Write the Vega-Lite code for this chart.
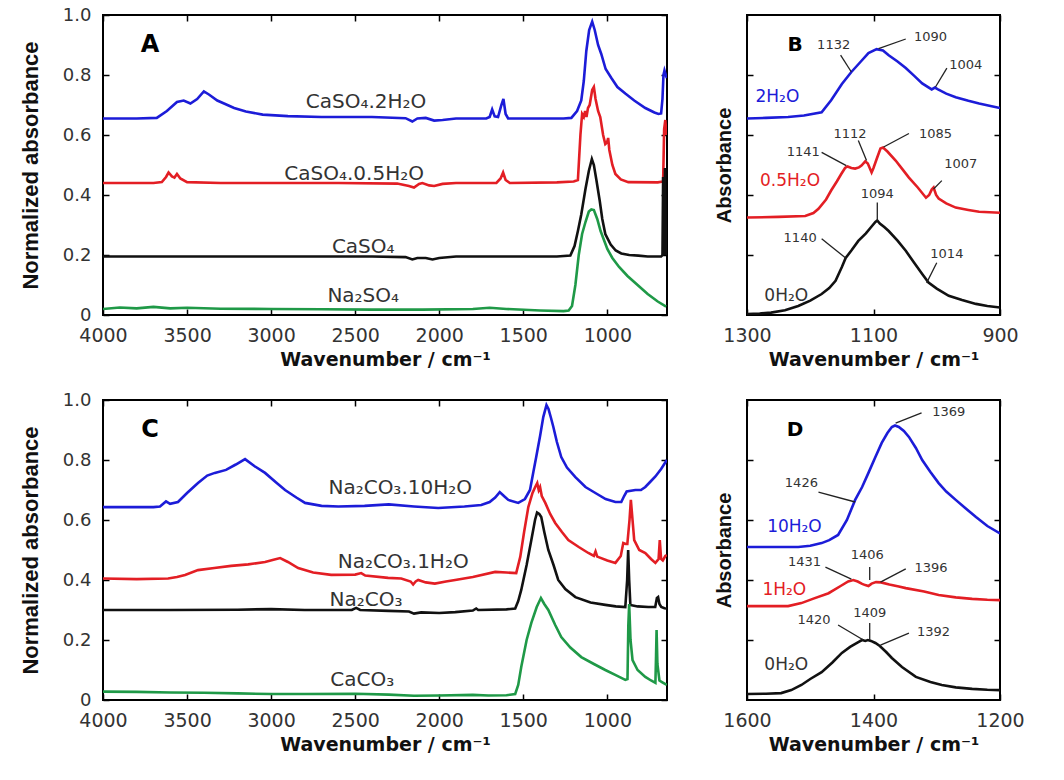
{
"$schema": "https://vega.github.io/schema/vega-lite/v6.json",
"background": "white",
"padding": {"left": 18, "top": 5, "right": 5, "bottom": 5},
"config": {
  "view": {"stroke": "black", "strokeWidth": 2},
  "axis": {"domain": false, "grid": false, "tickSize": -6, "tickColor": "black", "tickWidth": 1.5, "labelFont": "DejaVu Sans", "labelFontSize": 19, "labelColor": "#333333", "labelFlush": false, "labelOverlap": false, "titleColor": "#111111", "titleFontWeight": "bold"},
  "axisLeft": {"labelFontSize": 18},
  "text": {"font": "DejaVu Sans"}
},
"datasets": {
"L": [
{"p":"A","c":"b","x":4000,"y":0.655},{"p":"A","c":"b","x":3800,"y":0.655},{"p":"A","c":"b","x":3680,"y":0.657},{"p":"A","c":"b","x":3620,"y":0.68},{"p":"A","c":"b","x":3560,"y":0.71},{"p":"A","c":"b","x":3520,"y":0.715},{"p":"A","c":"b","x":3480,"y":0.705},{"p":"A","c":"b","x":3440,"y":0.72},{"p":"A","c":"b","x":3400,"y":0.745},{"p":"A","c":"b","x":3370,"y":0.735},{"p":"A","c":"b","x":3320,"y":0.715},{"p":"A","c":"b","x":3280,"y":0.705},{"p":"A","c":"b","x":3220,"y":0.69},{"p":"A","c":"b","x":3150,"y":0.678},{"p":"A","c":"b","x":3050,"y":0.668},{"p":"A","c":"b","x":2900,"y":0.663},{"p":"A","c":"b","x":2700,"y":0.66},{"p":"A","c":"b","x":2400,"y":0.66},{"p":"A","c":"b","x":2200,"y":0.656},{"p":"A","c":"b","x":2160,"y":0.645},{"p":"A","c":"b","x":2130,"y":0.655},{"p":"A","c":"b","x":2080,"y":0.657},{"p":"A","c":"b","x":2030,"y":0.648},{"p":"A","c":"b","x":1980,"y":0.65},{"p":"A","c":"b","x":1900,"y":0.655},{"p":"A","c":"b","x":1720,"y":0.655},{"p":"A","c":"b","x":1700,"y":0.66},{"p":"A","c":"b","x":1685,"y":0.685},{"p":"A","c":"b","x":1670,"y":0.662},{"p":"A","c":"b","x":1650,"y":0.66},{"p":"A","c":"b","x":1630,"y":0.7},{"p":"A","c":"b","x":1618,"y":0.72},{"p":"A","c":"b","x":1605,"y":0.67},{"p":"A","c":"b","x":1590,"y":0.655},{"p":"A","c":"b","x":1400,"y":0.655},{"p":"A","c":"b","x":1260,"y":0.655},{"p":"A","c":"b","x":1214,"y":0.657},{"p":"A","c":"b","x":1180,"y":0.68},{"p":"A","c":"b","x":1155,"y":0.715},{"p":"A","c":"b","x":1140,"y":0.78},{"p":"A","c":"b","x":1125,"y":0.88},{"p":"A","c":"b","x":1108,"y":0.95},{"p":"A","c":"b","x":1090,"y":0.978},{"p":"A","c":"b","x":1075,"y":0.95},{"p":"A","c":"b","x":1055,"y":0.9},{"p":"A","c":"b","x":1036,"y":0.87},{"p":"A","c":"b","x":1010,"y":0.82},{"p":"A","c":"b","x":976,"y":0.79},{"p":"A","c":"b","x":940,"y":0.76},{"p":"A","c":"b","x":893,"y":0.738},{"p":"A","c":"b","x":840,"y":0.715},{"p":"A","c":"b","x":774,"y":0.69},{"p":"A","c":"b","x":720,"y":0.675},{"p":"A","c":"b","x":696,"y":0.67},{"p":"A","c":"b","x":680,"y":0.672},{"p":"A","c":"b","x":672,"y":0.72},{"p":"A","c":"b","x":666,"y":0.8},{"p":"A","c":"b","x":660,"y":0.815},{"p":"A","c":"b","x":652,"y":0.8},{"p":"A","c":"b","x":646,"y":0.79},
{"p":"A","c":"r","x":4000,"y":0.44},{"p":"A","c":"r","x":3700,"y":0.44},{"p":"A","c":"r","x":3650,"y":0.443},{"p":"A","c":"r","x":3625,"y":0.46},{"p":"A","c":"r","x":3610,"y":0.475},{"p":"A","c":"r","x":3590,"y":0.462},{"p":"A","c":"r","x":3575,"y":0.458},{"p":"A","c":"r","x":3560,"y":0.47},{"p":"A","c":"r","x":3540,"y":0.455},{"p":"A","c":"r","x":3500,"y":0.443},{"p":"A","c":"r","x":3300,"y":0.44},{"p":"A","c":"r","x":2600,"y":0.44},{"p":"A","c":"r","x":2250,"y":0.438},{"p":"A","c":"r","x":2180,"y":0.43},{"p":"A","c":"r","x":2150,"y":0.425},{"p":"A","c":"r","x":2120,"y":0.437},{"p":"A","c":"r","x":2100,"y":0.44},{"p":"A","c":"r","x":2060,"y":0.432},{"p":"A","c":"r","x":2030,"y":0.43},{"p":"A","c":"r","x":1980,"y":0.437},{"p":"A","c":"r","x":1900,"y":0.44},{"p":"A","c":"r","x":1660,"y":0.44},{"p":"A","c":"r","x":1635,"y":0.455},{"p":"A","c":"r","x":1620,"y":0.475},{"p":"A","c":"r","x":1605,"y":0.45},{"p":"A","c":"r","x":1580,"y":0.44},{"p":"A","c":"r","x":1300,"y":0.442},{"p":"A","c":"r","x":1200,"y":0.445},{"p":"A","c":"r","x":1175,"y":0.45},{"p":"A","c":"r","x":1160,"y":0.6},{"p":"A","c":"r","x":1150,"y":0.67},{"p":"A","c":"r","x":1140,"y":0.66},{"p":"A","c":"r","x":1132,"y":0.68},{"p":"A","c":"r","x":1124,"y":0.66},{"p":"A","c":"r","x":1115,"y":0.69},{"p":"A","c":"r","x":1105,"y":0.7},{"p":"A","c":"r","x":1090,"y":0.75},{"p":"A","c":"r","x":1080,"y":0.76},{"p":"A","c":"r","x":1070,"y":0.72},{"p":"A","c":"r","x":1055,"y":0.68},{"p":"A","c":"r","x":1042,"y":0.66},{"p":"A","c":"r","x":1025,"y":0.6},{"p":"A","c":"r","x":1012,"y":0.57},{"p":"A","c":"r","x":1002,"y":0.575},{"p":"A","c":"r","x":995,"y":0.59},{"p":"A","c":"r","x":988,"y":0.55},{"p":"A","c":"r","x":970,"y":0.5},{"p":"A","c":"r","x":952,"y":0.47},{"p":"A","c":"r","x":920,"y":0.452},{"p":"A","c":"r","x":875,"y":0.443},{"p":"A","c":"r","x":700,"y":0.442},{"p":"A","c":"r","x":668,"y":0.445},{"p":"A","c":"r","x":662,"y":0.62},{"p":"A","c":"r","x":655,"y":0.65},{"p":"A","c":"r","x":648,"y":0.6},
{"p":"A","c":"k","x":4000,"y":0.195},{"p":"A","c":"k","x":3000,"y":0.195},{"p":"A","c":"k","x":2400,"y":0.195},{"p":"A","c":"k","x":2200,"y":0.193},{"p":"A","c":"k","x":2160,"y":0.185},{"p":"A","c":"k","x":2130,"y":0.19},{"p":"A","c":"k","x":2080,"y":0.19},{"p":"A","c":"k","x":2040,"y":0.185},{"p":"A","c":"k","x":2000,"y":0.19},{"p":"A","c":"k","x":1900,"y":0.195},{"p":"A","c":"k","x":1300,"y":0.195},{"p":"A","c":"k","x":1220,"y":0.198},{"p":"A","c":"k","x":1195,"y":0.23},{"p":"A","c":"k","x":1175,"y":0.28},{"p":"A","c":"k","x":1155,"y":0.335},{"p":"A","c":"k","x":1130,"y":0.42},{"p":"A","c":"k","x":1110,"y":0.48},{"p":"A","c":"k","x":1092,"y":0.52},{"p":"A","c":"k","x":1080,"y":0.5},{"p":"A","c":"k","x":1065,"y":0.45},{"p":"A","c":"k","x":1045,"y":0.38},{"p":"A","c":"k","x":1030,"y":0.32},{"p":"A","c":"k","x":1012,"y":0.27},{"p":"A","c":"k","x":980,"y":0.235},{"p":"A","c":"k","x":950,"y":0.215},{"p":"A","c":"k","x":917,"y":0.205},{"p":"A","c":"k","x":870,"y":0.2},{"p":"A","c":"k","x":815,"y":0.198},{"p":"A","c":"k","x":760,"y":0.195},{"p":"A","c":"k","x":680,"y":0.195},{"p":"A","c":"k","x":672,"y":0.2},{"p":"A","c":"k","x":668,"y":0.46},{"p":"A","c":"k","x":664,"y":0.21},{"p":"A","c":"k","x":660,"y":0.2},{"p":"A","c":"k","x":657,"y":0.49},{"p":"A","c":"k","x":653,"y":0.3},{"p":"A","c":"k","x":649,"y":0.2},
{"p":"A","c":"g","x":4000,"y":0.02},{"p":"A","c":"g","x":3900,"y":0.025},{"p":"A","c":"g","x":3800,"y":0.022},{"p":"A","c":"g","x":3700,"y":0.027},{"p":"A","c":"g","x":3600,"y":0.022},{"p":"A","c":"g","x":3500,"y":0.024},{"p":"A","c":"g","x":3300,"y":0.021},{"p":"A","c":"g","x":3000,"y":0.02},{"p":"A","c":"g","x":2700,"y":0.019},{"p":"A","c":"g","x":2400,"y":0.018},{"p":"A","c":"g","x":2100,"y":0.018},{"p":"A","c":"g","x":1800,"y":0.02},{"p":"A","c":"g","x":1700,"y":0.024},{"p":"A","c":"g","x":1600,"y":0.02},{"p":"A","c":"g","x":1400,"y":0.015},{"p":"A","c":"g","x":1260,"y":0.013},{"p":"A","c":"g","x":1230,"y":0.015},{"p":"A","c":"g","x":1210,"y":0.03},{"p":"A","c":"g","x":1190,"y":0.1},{"p":"A","c":"g","x":1170,"y":0.2},{"p":"A","c":"g","x":1150,"y":0.27},{"p":"A","c":"g","x":1130,"y":0.31},{"p":"A","c":"g","x":1110,"y":0.345},{"p":"A","c":"g","x":1095,"y":0.352},{"p":"A","c":"g","x":1080,"y":0.35},{"p":"A","c":"g","x":1060,"y":0.32},{"p":"A","c":"g","x":1040,"y":0.28},{"p":"A","c":"g","x":1020,"y":0.25},{"p":"A","c":"g","x":1000,"y":0.22},{"p":"A","c":"g","x":970,"y":0.19},{"p":"A","c":"g","x":930,"y":0.16},{"p":"A","c":"g","x":880,"y":0.13},{"p":"A","c":"g","x":820,"y":0.1},{"p":"A","c":"g","x":760,"y":0.07},{"p":"A","c":"g","x":700,"y":0.045},{"p":"A","c":"g","x":650,"y":0.028},
{"p":"B","c":"b","x":1300,"y":0.655},{"p":"B","c":"b","x":1270,"y":0.657},{"p":"B","c":"b","x":1235,"y":0.66},{"p":"B","c":"b","x":1210,"y":0.665},{"p":"B","c":"b","x":1182,"y":0.676},{"p":"B","c":"b","x":1167,"y":0.716},{"p":"B","c":"b","x":1150,"y":0.77},{"p":"B","c":"b","x":1135,"y":0.81},{"p":"B","c":"b","x":1120,"y":0.845},{"p":"B","c":"b","x":1108,"y":0.873},{"p":"B","c":"b","x":1095,"y":0.886},{"p":"B","c":"b","x":1085,"y":0.882},{"p":"B","c":"b","x":1076,"y":0.866},{"p":"B","c":"b","x":1062,"y":0.845},{"p":"B","c":"b","x":1049,"y":0.823},{"p":"B","c":"b","x":1036,"y":0.798},{"p":"B","c":"b","x":1023,"y":0.772},{"p":"B","c":"b","x":1008,"y":0.752},{"p":"B","c":"b","x":1003,"y":0.758},{"p":"B","c":"b","x":998,"y":0.752},{"p":"B","c":"b","x":985,"y":0.738},{"p":"B","c":"b","x":970,"y":0.726},{"p":"B","c":"b","x":950,"y":0.714},{"p":"B","c":"b","x":933,"y":0.705},{"p":"B","c":"b","x":915,"y":0.697},{"p":"B","c":"b","x":900,"y":0.69},
{"p":"B","c":"r","x":1300,"y":0.325},{"p":"B","c":"r","x":1250,"y":0.327},{"p":"B","c":"r","x":1208,"y":0.33},{"p":"B","c":"r","x":1195,"y":0.34},{"p":"B","c":"r","x":1187,"y":0.354},{"p":"B","c":"r","x":1175,"y":0.385},{"p":"B","c":"r","x":1167,"y":0.415},{"p":"B","c":"r","x":1158,"y":0.445},{"p":"B","c":"r","x":1151,"y":0.47},{"p":"B","c":"r","x":1145,"y":0.49},{"p":"B","c":"r","x":1141,"y":0.495},{"p":"B","c":"r","x":1135,"y":0.49},{"p":"B","c":"r","x":1129,"y":0.488},{"p":"B","c":"r","x":1123,"y":0.492},{"p":"B","c":"r","x":1119,"y":0.498},{"p":"B","c":"r","x":1113,"y":0.512},{"p":"B","c":"r","x":1109,"y":0.505},{"p":"B","c":"r","x":1103,"y":0.475},{"p":"B","c":"r","x":1100,"y":0.49},{"p":"B","c":"r","x":1095,"y":0.52},{"p":"B","c":"r","x":1089,"y":0.555},{"p":"B","c":"r","x":1085,"y":0.558},{"p":"B","c":"r","x":1078,"y":0.545},{"p":"B","c":"r","x":1065,"y":0.515},{"p":"B","c":"r","x":1055,"y":0.488},{"p":"B","c":"r","x":1044,"y":0.458},{"p":"B","c":"r","x":1030,"y":0.425},{"p":"B","c":"r","x":1017,"y":0.391},{"p":"B","c":"r","x":1012,"y":0.4},{"p":"B","c":"r","x":1008,"y":0.418},{"p":"B","c":"r","x":1005,"y":0.425},{"p":"B","c":"r","x":1001,"y":0.4},{"p":"B","c":"r","x":997,"y":0.388},{"p":"B","c":"r","x":985,"y":0.372},{"p":"B","c":"r","x":970,"y":0.358},{"p":"B","c":"r","x":950,"y":0.35},{"p":"B","c":"r","x":933,"y":0.344},{"p":"B","c":"r","x":900,"y":0.341},
{"p":"B","c":"k","x":1300,"y":0.003},{"p":"B","c":"k","x":1280,"y":0.005},{"p":"B","c":"k","x":1262,"y":0.008},{"p":"B","c":"k","x":1240,"y":0.016},{"p":"B","c":"k","x":1219,"y":0.03},{"p":"B","c":"k","x":1200,"y":0.048},{"p":"B","c":"k","x":1182,"y":0.07},{"p":"B","c":"k","x":1170,"y":0.09},{"p":"B","c":"k","x":1160,"y":0.114},{"p":"B","c":"k","x":1150,"y":0.16},{"p":"B","c":"k","x":1144,"y":0.19},{"p":"B","c":"k","x":1135,"y":0.215},{"p":"B","c":"k","x":1124,"y":0.247},{"p":"B","c":"k","x":1112,"y":0.272},{"p":"B","c":"k","x":1105,"y":0.29},{"p":"B","c":"k","x":1097,"y":0.31},{"p":"B","c":"k","x":1094,"y":0.315},{"p":"B","c":"k","x":1090,"y":0.305},{"p":"B","c":"k","x":1083,"y":0.293},{"p":"B","c":"k","x":1076,"y":0.28},{"p":"B","c":"k","x":1062,"y":0.248},{"p":"B","c":"k","x":1049,"y":0.214},{"p":"B","c":"k","x":1036,"y":0.175},{"p":"B","c":"k","x":1023,"y":0.137},{"p":"B","c":"k","x":1013,"y":0.108},{"p":"B","c":"k","x":1000,"y":0.088},{"p":"B","c":"k","x":981,"y":0.064},{"p":"B","c":"k","x":960,"y":0.05},{"p":"B","c":"k","x":938,"y":0.037},{"p":"B","c":"k","x":920,"y":0.03},{"p":"B","c":"k","x":900,"y":0.025},
{"p":"C","c":"b","x":4000,"y":0.643},{"p":"C","c":"b","x":3700,"y":0.643},{"p":"C","c":"b","x":3661,"y":0.645},{"p":"C","c":"b","x":3640,"y":0.655},{"p":"C","c":"b","x":3625,"y":0.662},{"p":"C","c":"b","x":3601,"y":0.654},{"p":"C","c":"b","x":3554,"y":0.66},{"p":"C","c":"b","x":3500,"y":0.69},{"p":"C","c":"b","x":3435,"y":0.723},{"p":"C","c":"b","x":3380,"y":0.748},{"p":"C","c":"b","x":3335,"y":0.757},{"p":"C","c":"b","x":3268,"y":0.767},{"p":"C","c":"b","x":3210,"y":0.785},{"p":"C","c":"b","x":3155,"y":0.803},{"p":"C","c":"b","x":3100,"y":0.78},{"p":"C","c":"b","x":3036,"y":0.757},{"p":"C","c":"b","x":2970,"y":0.725},{"p":"C","c":"b","x":2917,"y":0.7},{"p":"C","c":"b","x":2850,"y":0.675},{"p":"C","c":"b","x":2798,"y":0.657},{"p":"C","c":"b","x":2700,"y":0.647},{"p":"C","c":"b","x":2600,"y":0.645},{"p":"C","c":"b","x":2444,"y":0.647},{"p":"C","c":"b","x":2300,"y":0.652},{"p":"C","c":"b","x":2150,"y":0.645},{"p":"C","c":"b","x":2006,"y":0.64},{"p":"C","c":"b","x":1850,"y":0.645},{"p":"C","c":"b","x":1750,"y":0.65},{"p":"C","c":"b","x":1700,"y":0.66},{"p":"C","c":"b","x":1667,"y":0.675},{"p":"C","c":"b","x":1640,"y":0.693},{"p":"C","c":"b","x":1615,"y":0.68},{"p":"C","c":"b","x":1589,"y":0.667},{"p":"C","c":"b","x":1530,"y":0.657},{"p":"C","c":"b","x":1490,"y":0.67},{"p":"C","c":"b","x":1460,"y":0.7},{"p":"C","c":"b","x":1440,"y":0.76},{"p":"C","c":"b","x":1423,"y":0.81},{"p":"C","c":"b","x":1400,"y":0.88},{"p":"C","c":"b","x":1381,"y":0.943},{"p":"C","c":"b","x":1362,"y":0.983},{"p":"C","c":"b","x":1350,"y":0.97},{"p":"C","c":"b","x":1335,"y":0.94},{"p":"C","c":"b","x":1321,"y":0.91},{"p":"C","c":"b","x":1300,"y":0.86},{"p":"C","c":"b","x":1274,"y":0.81},{"p":"C","c":"b","x":1240,"y":0.775},{"p":"C","c":"b","x":1190,"y":0.743},{"p":"C","c":"b","x":1130,"y":0.71},{"p":"C","c":"b","x":1071,"y":0.69},{"p":"C","c":"b","x":1010,"y":0.67},{"p":"C","c":"b","x":952,"y":0.66},{"p":"C","c":"b","x":917,"y":0.66},{"p":"C","c":"b","x":900,"y":0.68},{"p":"C","c":"b","x":885,"y":0.695},{"p":"C","c":"b","x":833,"y":0.7},{"p":"C","c":"b","x":800,"y":0.7},{"p":"C","c":"b","x":774,"y":0.71},{"p":"C","c":"b","x":740,"y":0.73},{"p":"C","c":"b","x":714,"y":0.745},{"p":"C","c":"b","x":680,"y":0.77},{"p":"C","c":"b","x":646,"y":0.8},
{"p":"C","c":"r","x":4000,"y":0.405},{"p":"C","c":"r","x":3800,"y":0.403},{"p":"C","c":"r","x":3613,"y":0.405},{"p":"C","c":"r","x":3560,"y":0.41},{"p":"C","c":"r","x":3512,"y":0.417},{"p":"C","c":"r","x":3435,"y":0.433},{"p":"C","c":"r","x":3338,"y":0.44},{"p":"C","c":"r","x":3238,"y":0.447},{"p":"C","c":"r","x":3136,"y":0.452},{"p":"C","c":"r","x":3036,"y":0.46},{"p":"C","c":"r","x":2980,"y":0.468},{"p":"C","c":"r","x":2946,"y":0.473},{"p":"C","c":"r","x":2900,"y":0.46},{"p":"C","c":"r","x":2839,"y":0.44},{"p":"C","c":"r","x":2750,"y":0.425},{"p":"C","c":"r","x":2643,"y":0.417},{"p":"C","c":"r","x":2500,"y":0.418},{"p":"C","c":"r","x":2464,"y":0.423},{"p":"C","c":"r","x":2440,"y":0.415},{"p":"C","c":"r","x":2304,"y":0.407},{"p":"C","c":"r","x":2226,"y":0.405},{"p":"C","c":"r","x":2170,"y":0.395},{"p":"C","c":"r","x":2155,"y":0.385},{"p":"C","c":"r","x":2140,"y":0.395},{"p":"C","c":"r","x":2125,"y":0.4},{"p":"C","c":"r","x":2080,"y":0.392},{"p":"C","c":"r","x":2026,"y":0.388},{"p":"C","c":"r","x":1960,"y":0.395},{"p":"C","c":"r","x":1905,"y":0.4},{"p":"C","c":"r","x":1800,"y":0.41},{"p":"C","c":"r","x":1667,"y":0.427},{"p":"C","c":"r","x":1600,"y":0.425},{"p":"C","c":"r","x":1542,"y":0.423},{"p":"C","c":"r","x":1518,"y":0.477},{"p":"C","c":"r","x":1495,"y":0.56},{"p":"C","c":"r","x":1470,"y":0.643},{"p":"C","c":"r","x":1445,"y":0.69},{"p":"C","c":"r","x":1429,"y":0.71},{"p":"C","c":"r","x":1417,"y":0.723},{"p":"C","c":"r","x":1408,"y":0.7},{"p":"C","c":"r","x":1400,"y":0.71},{"p":"C","c":"r","x":1390,"y":0.68},{"p":"C","c":"r","x":1369,"y":0.657},{"p":"C","c":"r","x":1340,"y":0.62},{"p":"C","c":"r","x":1310,"y":0.59},{"p":"C","c":"r","x":1270,"y":0.56},{"p":"C","c":"r","x":1232,"y":0.533},{"p":"C","c":"r","x":1170,"y":0.51},{"p":"C","c":"r","x":1113,"y":0.49},{"p":"C","c":"r","x":1080,"y":0.48},{"p":"C","c":"r","x":1070,"y":0.495},{"p":"C","c":"r","x":1060,"y":0.478},{"p":"C","c":"r","x":1000,"y":0.465},{"p":"C","c":"r","x":952,"y":0.457},{"p":"C","c":"r","x":920,"y":0.48},{"p":"C","c":"r","x":905,"y":0.523},{"p":"C","c":"r","x":890,"y":0.52},{"p":"C","c":"r","x":881,"y":0.52},{"p":"C","c":"r","x":868,"y":0.6},{"p":"C","c":"r","x":860,"y":0.667},{"p":"C","c":"r","x":850,"y":0.6},{"p":"C","c":"r","x":840,"y":0.533},{"p":"C","c":"r","x":810,"y":0.5},{"p":"C","c":"r","x":774,"y":0.49},{"p":"C","c":"r","x":740,"y":0.47},{"p":"C","c":"r","x":714,"y":0.457},{"p":"C","c":"r","x":695,"y":0.47},{"p":"C","c":"r","x":688,"y":0.533},{"p":"C","c":"r","x":680,"y":0.47},{"p":"C","c":"r","x":670,"y":0.465},{"p":"C","c":"r","x":655,"y":0.48},{"p":"C","c":"r","x":646,"y":0.483},
{"p":"C","c":"k","x":4000,"y":0.3},{"p":"C","c":"k","x":3600,"y":0.3},{"p":"C","c":"k","x":3200,"y":0.301},{"p":"C","c":"k","x":3000,"y":0.303},{"p":"C","c":"k","x":2800,"y":0.3},{"p":"C","c":"k","x":2520,"y":0.3},{"p":"C","c":"k","x":2494,"y":0.307},{"p":"C","c":"k","x":2470,"y":0.3},{"p":"C","c":"k","x":2300,"y":0.297},{"p":"C","c":"k","x":2180,"y":0.295},{"p":"C","c":"k","x":2150,"y":0.288},{"p":"C","c":"k","x":2107,"y":0.292},{"p":"C","c":"k","x":2000,"y":0.29},{"p":"C","c":"k","x":1905,"y":0.293},{"p":"C","c":"k","x":1800,"y":0.298},{"p":"C","c":"k","x":1780,"y":0.305},{"p":"C","c":"k","x":1768,"y":0.3},{"p":"C","c":"k","x":1600,"y":0.302},{"p":"C","c":"k","x":1548,"y":0.305},{"p":"C","c":"k","x":1530,"y":0.33},{"p":"C","c":"k","x":1512,"y":0.367},{"p":"C","c":"k","x":1480,"y":0.45},{"p":"C","c":"k","x":1452,"y":0.533},{"p":"C","c":"k","x":1430,"y":0.6},{"p":"C","c":"k","x":1418,"y":0.625},{"p":"C","c":"k","x":1405,"y":0.62},{"p":"C","c":"k","x":1393,"y":0.61},{"p":"C","c":"k","x":1375,"y":0.56},{"p":"C","c":"k","x":1351,"y":0.5},{"p":"C","c":"k","x":1320,"y":0.45},{"p":"C","c":"k","x":1292,"y":0.4},{"p":"C","c":"k","x":1250,"y":0.37},{"p":"C","c":"k","x":1190,"y":0.343},{"p":"C","c":"k","x":1100,"y":0.325},{"p":"C","c":"k","x":1012,"y":0.317},{"p":"C","c":"k","x":950,"y":0.312},{"p":"C","c":"k","x":893,"y":0.31},{"p":"C","c":"k","x":882,"y":0.4},{"p":"C","c":"k","x":876,"y":0.5},{"p":"C","c":"k","x":870,"y":0.4},{"p":"C","c":"k","x":863,"y":0.317},{"p":"C","c":"k","x":820,"y":0.312},{"p":"C","c":"k","x":756,"y":0.31},{"p":"C","c":"k","x":715,"y":0.31},{"p":"C","c":"k","x":705,"y":0.34},{"p":"C","c":"k","x":698,"y":0.343},{"p":"C","c":"k","x":690,"y":0.32},{"p":"C","c":"k","x":679,"y":0.31},{"p":"C","c":"k","x":660,"y":0.306},{"p":"C","c":"k","x":646,"y":0.305},
{"p":"C","c":"g","x":4000,"y":0.028},{"p":"C","c":"g","x":3800,"y":0.027},{"p":"C","c":"g","x":3600,"y":0.025},{"p":"C","c":"g","x":3400,"y":0.024},{"p":"C","c":"g","x":3200,"y":0.022},{"p":"C","c":"g","x":3000,"y":0.02},{"p":"C","c":"g","x":2800,"y":0.02},{"p":"C","c":"g","x":2500,"y":0.021},{"p":"C","c":"g","x":2300,"y":0.018},{"p":"C","c":"g","x":2150,"y":0.014},{"p":"C","c":"g","x":2000,"y":0.015},{"p":"C","c":"g","x":1800,"y":0.017},{"p":"C","c":"g","x":1708,"y":0.015},{"p":"C","c":"g","x":1600,"y":0.016},{"p":"C","c":"g","x":1548,"y":0.02},{"p":"C","c":"g","x":1530,"y":0.05},{"p":"C","c":"g","x":1512,"y":0.11},{"p":"C","c":"g","x":1480,"y":0.2},{"p":"C","c":"g","x":1452,"y":0.257},{"p":"C","c":"g","x":1420,"y":0.31},{"p":"C","c":"g","x":1395,"y":0.34},{"p":"C","c":"g","x":1375,"y":0.32},{"p":"C","c":"g","x":1351,"y":0.3},{"p":"C","c":"g","x":1310,"y":0.25},{"p":"C","c":"g","x":1274,"y":0.21},{"p":"C","c":"g","x":1220,"y":0.175},{"p":"C","c":"g","x":1155,"y":0.143},{"p":"C","c":"g","x":1080,"y":0.12},{"p":"C","c":"g","x":1012,"y":0.1},{"p":"C","c":"g","x":950,"y":0.083},{"p":"C","c":"g","x":893,"y":0.067},{"p":"C","c":"g","x":880,"y":0.07},{"p":"C","c":"g","x":875,"y":0.25},{"p":"C","c":"g","x":870,"y":0.32},{"p":"C","c":"g","x":862,"y":0.2},{"p":"C","c":"g","x":850,"y":0.133},{"p":"C","c":"g","x":820,"y":0.1},{"p":"C","c":"g","x":774,"y":0.077},{"p":"C","c":"g","x":740,"y":0.065},{"p":"C","c":"g","x":714,"y":0.057},{"p":"C","c":"g","x":710,"y":0.15},{"p":"C","c":"g","x":707,"y":0.233},{"p":"C","c":"g","x":702,"y":0.12},{"p":"C","c":"g","x":690,"y":0.065},{"p":"C","c":"g","x":670,"y":0.058},{"p":"C","c":"g","x":646,"y":0.05},
{"p":"D","c":"b","x":1600,"y":0.51},{"p":"D","c":"b","x":1560,"y":0.51},{"p":"D","c":"b","x":1519,"y":0.51},{"p":"D","c":"b","x":1500,"y":0.514},{"p":"D","c":"b","x":1482,"y":0.523},{"p":"D","c":"b","x":1470,"y":0.533},{"p":"D","c":"b","x":1456,"y":0.55},{"p":"D","c":"b","x":1442,"y":0.6},{"p":"D","c":"b","x":1429,"y":0.667},{"p":"D","c":"b","x":1418,"y":0.71},{"p":"D","c":"b","x":1408,"y":0.757},{"p":"D","c":"b","x":1397,"y":0.81},{"p":"D","c":"b","x":1387,"y":0.857},{"p":"D","c":"b","x":1378,"y":0.89},{"p":"D","c":"b","x":1371,"y":0.91},{"p":"D","c":"b","x":1366,"y":0.915},{"p":"D","c":"b","x":1360,"y":0.91},{"p":"D","c":"b","x":1352,"y":0.897},{"p":"D","c":"b","x":1344,"y":0.877},{"p":"D","c":"b","x":1333,"y":0.84},{"p":"D","c":"b","x":1323,"y":0.8},{"p":"D","c":"b","x":1310,"y":0.76},{"p":"D","c":"b","x":1297,"y":0.723},{"p":"D","c":"b","x":1285,"y":0.695},{"p":"D","c":"b","x":1270,"y":0.667},{"p":"D","c":"b","x":1255,"y":0.64},{"p":"D","c":"b","x":1238,"y":0.61},{"p":"D","c":"b","x":1220,"y":0.58},{"p":"D","c":"b","x":1200,"y":0.555},
{"p":"D","c":"r","x":1600,"y":0.313},{"p":"D","c":"r","x":1560,"y":0.313},{"p":"D","c":"r","x":1535,"y":0.313},{"p":"D","c":"r","x":1514,"y":0.323},{"p":"D","c":"r","x":1495,"y":0.338},{"p":"D","c":"r","x":1471,"y":0.356},{"p":"D","c":"r","x":1452,"y":0.38},{"p":"D","c":"r","x":1440,"y":0.395},{"p":"D","c":"r","x":1432,"y":0.4},{"p":"D","c":"r","x":1425,"y":0.395},{"p":"D","c":"r","x":1418,"y":0.387},{"p":"D","c":"r","x":1413,"y":0.383},{"p":"D","c":"r","x":1408,"y":0.38},{"p":"D","c":"r","x":1403,"y":0.388},{"p":"D","c":"r","x":1396,"y":0.393},{"p":"D","c":"r","x":1388,"y":0.392},{"p":"D","c":"r","x":1375,"y":0.385},{"p":"D","c":"r","x":1360,"y":0.378},{"p":"D","c":"r","x":1349,"y":0.373},{"p":"D","c":"r","x":1320,"y":0.362},{"p":"D","c":"r","x":1297,"y":0.35},{"p":"D","c":"r","x":1270,"y":0.342},{"p":"D","c":"r","x":1244,"y":0.337},{"p":"D","c":"r","x":1220,"y":0.334},{"p":"D","c":"r","x":1200,"y":0.333},
{"p":"D","c":"k","x":1600,"y":0.02},{"p":"D","c":"k","x":1570,"y":0.021},{"p":"D","c":"k","x":1546,"y":0.023},{"p":"D","c":"k","x":1530,"y":0.033},{"p":"D","c":"k","x":1514,"y":0.05},{"p":"D","c":"k","x":1500,"y":0.07},{"p":"D","c":"k","x":1482,"y":0.093},{"p":"D","c":"k","x":1465,"y":0.125},{"p":"D","c":"k","x":1450,"y":0.157},{"p":"D","c":"k","x":1437,"y":0.177},{"p":"D","c":"k","x":1424,"y":0.193},{"p":"D","c":"k","x":1418,"y":0.2},{"p":"D","c":"k","x":1413,"y":0.197},{"p":"D","c":"k","x":1409,"y":0.2},{"p":"D","c":"k","x":1404,"y":0.197},{"p":"D","c":"k","x":1397,"y":0.19},{"p":"D","c":"k","x":1390,"y":0.18},{"p":"D","c":"k","x":1380,"y":0.16},{"p":"D","c":"k","x":1371,"y":0.14},{"p":"D","c":"k","x":1355,"y":0.11},{"p":"D","c":"k","x":1333,"y":0.077},{"p":"D","c":"k","x":1310,"y":0.06},{"p":"D","c":"k","x":1292,"y":0.05},{"p":"D","c":"k","x":1270,"y":0.042},{"p":"D","c":"k","x":1244,"y":0.037},{"p":"D","c":"k","x":1220,"y":0.034},{"p":"D","c":"k","x":1200,"y":0.033}
],
"T": [
{"p":"A","k":"L","c":"k","t":"A","x":3720,"y":0.9},
{"p":"A","k":"s","c":"n","t":"CaSO₄.2H₂O","x":2435,"y":0.709},
{"p":"A","k":"s","c":"n","t":"CaSO₄.0.5H₂O","x":2506,"y":0.47},
{"p":"A","k":"s","c":"n","t":"CaSO₄","x":2452,"y":0.228},
{"p":"A","k":"s","c":"n","t":"Na₂SO₄","x":2452,"y":0.062},
{"p":"B","k":"L","c":"k","t":"B","x":1224,"y":0.9},
{"p":"B","k":"n","c":"n","t":"1132","x":1163,"y":0.9},
{"p":"B","k":"n","c":"n","t":"1090","x":1010,"y":0.926},
{"p":"B","k":"n","c":"n","t":"1004","x":954,"y":0.833},
{"p":"B","k":"h","c":"b","t":"2H₂O","x":1252,"y":0.726},
{"p":"B","k":"n","c":"n","t":"1112","x":1137,"y":0.605},
{"p":"B","k":"n","c":"n","t":"1141","x":1211,"y":0.545},
{"p":"B","k":"n","c":"n","t":"1085","x":1002,"y":0.605},
{"p":"B","k":"n","c":"n","t":"1007","x":962,"y":0.505},
{"p":"B","k":"h","c":"r","t":"0.5H₂O","x":1232,"y":0.448},
{"p":"B","k":"n","c":"n","t":"1094","x":1094,"y":0.405},
{"p":"B","k":"n","c":"n","t":"1140","x":1216,"y":0.257},
{"p":"B","k":"n","c":"n","t":"1014","x":984,"y":0.204},
{"p":"B","k":"h","c":"n","t":"0H₂O","x":1238,"y":0.064},
{"p":"C","k":"L","c":"k","t":"C","x":3720,"y":0.9},
{"p":"C","k":"s","c":"n","t":"Na₂CO₃.10H₂O","x":2232,"y":0.707},
{"p":"C","k":"s","c":"n","t":"Na₂CO₃.1H₂O","x":2214,"y":0.46},
{"p":"C","k":"s","c":"n","t":"Na₂CO₃","x":2435,"y":0.333},
{"p":"C","k":"s","c":"n","t":"CaCO₃","x":2458,"y":0.067},
{"p":"D","k":"L","c":"k","t":"D","x":1524,"y":0.9},
{"p":"D","k":"n","c":"n","t":"1369","x":1281,"y":0.96},
{"p":"D","k":"n","c":"n","t":"1426","x":1514,"y":0.723},
{"p":"D","k":"h","c":"b","t":"10H₂O","x":1525,"y":0.577},
{"p":"D","k":"n","c":"n","t":"1431","x":1509,"y":0.46},
{"p":"D","k":"n","c":"n","t":"1406","x":1410,"y":0.483},
{"p":"D","k":"n","c":"n","t":"1396","x":1309,"y":0.44},
{"p":"D","k":"h","c":"r","t":"1H₂O","x":1541,"y":0.367},
{"p":"D","k":"n","c":"n","t":"1420","x":1494,"y":0.267},
{"p":"D","k":"n","c":"n","t":"1409","x":1406,"y":0.29},
{"p":"D","k":"n","c":"n","t":"1392","x":1305,"y":0.227},
{"p":"D","k":"h","c":"n","t":"0H₂O","x":1538,"y":0.117}
],
"R": [
{"p":"B","x":1152,"y":0.866,"x2":1135,"y2":0.81},
{"p":"B","x":1049,"y":0.92,"x2":1092,"y2":0.888},
{"p":"B","x":984,"y":0.823,"x2":1002,"y2":0.76},
{"p":"B","x":1124,"y":0.582,"x2":1111,"y2":0.515},
{"p":"B","x":1182,"y":0.542,"x2":1143,"y2":0.498},
{"p":"B","x":1044,"y":0.605,"x2":1084,"y2":0.56},
{"p":"B","x":992,"y":0.448,"x2":1005,"y2":0.42},
{"p":"B","x":1094,"y":0.375,"x2":1094,"y2":0.314},
{"p":"B","x":1182,"y":0.254,"x2":1144,"y2":0.19},
{"p":"B","x":1000,"y":0.174,"x2":1016,"y2":0.107},
{"p":"D","x":1324,"y":0.957,"x2":1365,"y2":0.923},
{"p":"D","x":1487,"y":0.693,"x2":1429,"y2":0.66},
{"p":"D","x":1476,"y":0.443,"x2":1435,"y2":0.403},
{"p":"D","x":1406,"y":0.443,"x2":1406,"y2":0.4},
{"p":"D","x":1349,"y":0.437,"x2":1389,"y2":0.393},
{"p":"D","x":1456,"y":0.25,"x2":1416,"y2":0.2},
{"p":"D","x":1406,"y":0.257,"x2":1406,"y2":0.2},
{"p":"D","x":1344,"y":0.223,"x2":1389,"y2":0.183}
]
},
"columns": 2,
"spacing": {"row": 85, "column": 80},
"bounds": "flush",
"concat": [
{
 "width": 564, "height": 300,
 "layer": [
  {"data": {"name": "L"}, "transform": [{"filter": "datum.p == 'A'"}],
   "mark": {"type": "line", "strokeWidth": 2.6, "clip": true},
   "encoding": {
    "x": {"field": "x", "type": "quantitative", "scale": {"domain": [645, 4000], "reverse": true, "nice": false, "zero": false}, "axis": {"orient": "bottom", "values": [4000, 3500, 3000, 2500, 2000, 1500, 1000], "format": "d", "labelPadding": 17, "title": "Wavenumber / cm⁻¹", "titleFont": "DejaVu Sans", "titleFontSize": 19, "titlePadding": 5}},
    "y": {"field": "y", "type": "quantitative", "scale": {"domain": [0, 1], "nice": false, "zero": false}, "axis": {"orient": "left", "values": [0, 0.2, 0.4, 0.6, 0.8, 1], "labelExpr": "datum.value == 0 ? '0' : format(datum.value, '.1f')", "labelPadding": 18, "title": "Normalized absorbance", "titleFont": "Liberation Sans", "titleFontSize": 22, "titlePadding": 20}},
    "color": {"field": "c", "type": "nominal", "scale": {"domain": ["b", "r", "k", "g", "n"], "range": ["#1c1cd8", "#e31e24", "#111111", "#1f9947", "#333333"]}, "legend": null}
   }},
  {"data": {"name": "T"}, "transform": [{"filter": "datum.p == 'A' && datum.k == 's'"}],
   "mark": {"type": "text", "fontSize": 20, "baseline": "middle", "align": "center"},
   "encoding": {
    "x": {"field": "x", "type": "quantitative", "scale": {"domain": [645, 4000], "reverse": true, "nice": false, "zero": false}, "axis": null},
    "y": {"field": "y", "type": "quantitative", "scale": {"domain": [0, 1], "nice": false, "zero": false}, "axis": null},
    "text": {"field": "t"},
    "color": {"field": "c", "type": "nominal", "scale": {"domain": ["b", "r", "k", "g", "n"], "range": ["#1c1cd8", "#e31e24", "#111111", "#1f9947", "#333333"]}, "legend": null}
   }},
  {"data": {"name": "T"}, "transform": [{"filter": "datum.p == 'A' && datum.k == 'L'"}],
   "mark": {"type": "text", "fontSize": 24, "fontWeight": "bold", "baseline": "middle", "align": "center", "color": "black"},
   "encoding": {
    "x": {"field": "x", "type": "quantitative", "scale": {"domain": [645, 4000], "reverse": true, "nice": false, "zero": false}, "axis": {"orient": "top", "values": [4000, 3500, 3000, 2500, 2000, 1500, 1000], "labels": false, "title": null}},
    "y": {"field": "y", "type": "quantitative", "scale": {"domain": [0, 1], "nice": false, "zero": false}, "axis": {"orient": "right", "values": [0, 0.2, 0.4, 0.6, 0.8, 1], "labels": false, "title": null}},
    "text": {"field": "t"}
   }}
 ],
 "resolve": {"axis": {"x": "independent", "y": "independent"}}
},
{
 "width": 253, "height": 300,
 "layer": [
  {"data": {"name": "L"}, "transform": [{"filter": "datum.p == 'B'"}],
   "mark": {"type": "line", "strokeWidth": 2.6, "clip": true},
   "encoding": {
    "x": {"field": "x", "type": "quantitative", "scale": {"domain": [900, 1300], "reverse": true, "nice": false, "zero": false}, "axis": {"orient": "bottom", "values": [1300, 1100, 900], "format": "d", "labelPadding": 17, "title": "Wavenumber / cm⁻¹", "titleFont": "DejaVu Sans", "titleFontSize": 19, "titlePadding": 5}},
    "y": {"field": "y", "type": "quantitative", "scale": {"domain": [0, 1], "nice": false, "zero": false}, "axis": {"orient": "left", "values": [0.2, 0.4, 0.6, 0.8], "labels": false, "title": "Absorbance", "titleFont": "Liberation Sans", "titleFontSize": 20, "titlePadding": 12}},
    "color": {"field": "c", "type": "nominal", "scale": {"domain": ["b", "r", "k", "g", "n"], "range": ["#1c1cd8", "#e31e24", "#111111", "#1f9947", "#333333"]}, "legend": null}
   }},
  {"data": {"name": "R"}, "transform": [{"filter": "datum.p == 'B'"}],
   "mark": {"type": "rule", "strokeWidth": 1.3, "color": "#222222"},
   "encoding": {
    "x": {"field": "x", "type": "quantitative", "scale": {"domain": [900, 1300], "reverse": true, "nice": false, "zero": false}, "axis": null},
    "y": {"field": "y", "type": "quantitative", "scale": {"domain": [0, 1], "nice": false, "zero": false}, "axis": null},
    "x2": {"field": "x2"}, "y2": {"field": "y2"}
   }},
  {"data": {"name": "T"}, "transform": [{"filter": "datum.p == 'B' && datum.k == 'n'"}],
   "mark": {"type": "text", "fontSize": 13, "baseline": "middle", "align": "center"},
   "encoding": {
    "x": {"field": "x", "type": "quantitative", "scale": {"domain": [900, 1300], "reverse": true, "nice": false, "zero": false}, "axis": null},
    "y": {"field": "y", "type": "quantitative", "scale": {"domain": [0, 1], "nice": false, "zero": false}, "axis": null},
    "text": {"field": "t"},
    "color": {"field": "c", "type": "nominal", "scale": {"domain": ["b", "r", "k", "g", "n"], "range": ["#1c1cd8", "#e31e24", "#111111", "#1f9947", "#333333"]}, "legend": null}
   }},
  {"data": {"name": "T"}, "transform": [{"filter": "datum.p == 'B' && datum.k == 'h'"}],
   "mark": {"type": "text", "fontSize": 17, "baseline": "middle", "align": "center"},
   "encoding": {
    "x": {"field": "x", "type": "quantitative", "scale": {"domain": [900, 1300], "reverse": true, "nice": false, "zero": false}, "axis": null},
    "y": {"field": "y", "type": "quantitative", "scale": {"domain": [0, 1], "nice": false, "zero": false}, "axis": null},
    "text": {"field": "t"},
    "color": {"field": "c", "type": "nominal", "scale": {"domain": ["b", "r", "k", "g", "n"], "range": ["#1c1cd8", "#e31e24", "#111111", "#1f9947", "#333333"]}, "legend": null}
   }},
  {"data": {"name": "T"}, "transform": [{"filter": "datum.p == 'B' && datum.k == 'L'"}],
   "mark": {"type": "text", "fontSize": 20, "fontWeight": "bold", "baseline": "middle", "align": "center", "color": "black"},
   "encoding": {
    "x": {"field": "x", "type": "quantitative", "scale": {"domain": [900, 1300], "reverse": true, "nice": false, "zero": false}, "axis": {"orient": "top", "values": [1300, 1100, 900], "labels": false, "title": null}},
    "y": {"field": "y", "type": "quantitative", "scale": {"domain": [0, 1], "nice": false, "zero": false}, "axis": {"orient": "right", "values": [0.2, 0.4, 0.6, 0.8], "labels": false, "title": null}},
    "text": {"field": "t"}
   }}
 ],
 "resolve": {"axis": {"x": "independent", "y": "independent"}}
},
{
 "width": 564, "height": 300,
 "layer": [
  {"data": {"name": "L"}, "transform": [{"filter": "datum.p == 'C'"}],
   "mark": {"type": "line", "strokeWidth": 2.6, "clip": true},
   "encoding": {
    "x": {"field": "x", "type": "quantitative", "scale": {"domain": [645, 4000], "reverse": true, "nice": false, "zero": false}, "axis": {"orient": "bottom", "values": [4000, 3500, 3000, 2500, 2000, 1500, 1000], "format": "d", "labelPadding": 17, "title": "Wavenumber / cm⁻¹", "titleFont": "DejaVu Sans", "titleFontSize": 19, "titlePadding": 5}},
    "y": {"field": "y", "type": "quantitative", "scale": {"domain": [0, 1], "nice": false, "zero": false}, "axis": {"orient": "left", "values": [0, 0.2, 0.4, 0.6, 0.8, 1], "labelExpr": "datum.value == 0 ? '0' : format(datum.value, '.1f')", "labelPadding": 18, "title": "Normalized absorbance", "titleFont": "Liberation Sans", "titleFontSize": 22, "titlePadding": 20}},
    "color": {"field": "c", "type": "nominal", "scale": {"domain": ["b", "r", "k", "g", "n"], "range": ["#1c1cd8", "#e31e24", "#111111", "#1f9947", "#333333"]}, "legend": null}
   }},
  {"data": {"name": "T"}, "transform": [{"filter": "datum.p == 'C' && datum.k == 's'"}],
   "mark": {"type": "text", "fontSize": 20, "baseline": "middle", "align": "center"},
   "encoding": {
    "x": {"field": "x", "type": "quantitative", "scale": {"domain": [645, 4000], "reverse": true, "nice": false, "zero": false}, "axis": null},
    "y": {"field": "y", "type": "quantitative", "scale": {"domain": [0, 1], "nice": false, "zero": false}, "axis": null},
    "text": {"field": "t"},
    "color": {"field": "c", "type": "nominal", "scale": {"domain": ["b", "r", "k", "g", "n"], "range": ["#1c1cd8", "#e31e24", "#111111", "#1f9947", "#333333"]}, "legend": null}
   }},
  {"data": {"name": "T"}, "transform": [{"filter": "datum.p == 'C' && datum.k == 'L'"}],
   "mark": {"type": "text", "fontSize": 24, "fontWeight": "bold", "baseline": "middle", "align": "center", "color": "black"},
   "encoding": {
    "x": {"field": "x", "type": "quantitative", "scale": {"domain": [645, 4000], "reverse": true, "nice": false, "zero": false}, "axis": {"orient": "top", "values": [4000, 3500, 3000, 2500, 2000, 1500, 1000], "labels": false, "title": null}},
    "y": {"field": "y", "type": "quantitative", "scale": {"domain": [0, 1], "nice": false, "zero": false}, "axis": {"orient": "right", "values": [0, 0.2, 0.4, 0.6, 0.8, 1], "labels": false, "title": null}},
    "text": {"field": "t"}
   }}
 ],
 "resolve": {"axis": {"x": "independent", "y": "independent"}}
},
{
 "width": 253, "height": 300,
 "layer": [
  {"data": {"name": "L"}, "transform": [{"filter": "datum.p == 'D'"}],
   "mark": {"type": "line", "strokeWidth": 2.6, "clip": true},
   "encoding": {
    "x": {"field": "x", "type": "quantitative", "scale": {"domain": [1200, 1600], "reverse": true, "nice": false, "zero": false}, "axis": {"orient": "bottom", "values": [1600, 1400, 1200], "format": "d", "labelPadding": 17, "title": "Wavenumber / cm⁻¹", "titleFont": "DejaVu Sans", "titleFontSize": 19, "titlePadding": 5}},
    "y": {"field": "y", "type": "quantitative", "scale": {"domain": [0, 1], "nice": false, "zero": false}, "axis": {"orient": "left", "values": [0.2, 0.4, 0.6, 0.8], "labels": false, "title": "Absorbance", "titleFont": "Liberation Sans", "titleFontSize": 20, "titlePadding": 12}},
    "color": {"field": "c", "type": "nominal", "scale": {"domain": ["b", "r", "k", "g", "n"], "range": ["#1c1cd8", "#e31e24", "#111111", "#1f9947", "#333333"]}, "legend": null}
   }},
  {"data": {"name": "R"}, "transform": [{"filter": "datum.p == 'D'"}],
   "mark": {"type": "rule", "strokeWidth": 1.3, "color": "#222222"},
   "encoding": {
    "x": {"field": "x", "type": "quantitative", "scale": {"domain": [1200, 1600], "reverse": true, "nice": false, "zero": false}, "axis": null},
    "y": {"field": "y", "type": "quantitative", "scale": {"domain": [0, 1], "nice": false, "zero": false}, "axis": null},
    "x2": {"field": "x2"}, "y2": {"field": "y2"}
   }},
  {"data": {"name": "T"}, "transform": [{"filter": "datum.p == 'D' && datum.k == 'n'"}],
   "mark": {"type": "text", "fontSize": 13, "baseline": "middle", "align": "center"},
   "encoding": {
    "x": {"field": "x", "type": "quantitative", "scale": {"domain": [1200, 1600], "reverse": true, "nice": false, "zero": false}, "axis": null},
    "y": {"field": "y", "type": "quantitative", "scale": {"domain": [0, 1], "nice": false, "zero": false}, "axis": null},
    "text": {"field": "t"},
    "color": {"field": "c", "type": "nominal", "scale": {"domain": ["b", "r", "k", "g", "n"], "range": ["#1c1cd8", "#e31e24", "#111111", "#1f9947", "#333333"]}, "legend": null}
   }},
  {"data": {"name": "T"}, "transform": [{"filter": "datum.p == 'D' && datum.k == 'h'"}],
   "mark": {"type": "text", "fontSize": 17, "baseline": "middle", "align": "center"},
   "encoding": {
    "x": {"field": "x", "type": "quantitative", "scale": {"domain": [1200, 1600], "reverse": true, "nice": false, "zero": false}, "axis": null},
    "y": {"field": "y", "type": "quantitative", "scale": {"domain": [0, 1], "nice": false, "zero": false}, "axis": null},
    "text": {"field": "t"},
    "color": {"field": "c", "type": "nominal", "scale": {"domain": ["b", "r", "k", "g", "n"], "range": ["#1c1cd8", "#e31e24", "#111111", "#1f9947", "#333333"]}, "legend": null}
   }},
  {"data": {"name": "T"}, "transform": [{"filter": "datum.p == 'D' && datum.k == 'L'"}],
   "mark": {"type": "text", "fontSize": 20, "fontWeight": "bold", "baseline": "middle", "align": "center", "color": "black"},
   "encoding": {
    "x": {"field": "x", "type": "quantitative", "scale": {"domain": [1200, 1600], "reverse": true, "nice": false, "zero": false}, "axis": {"orient": "top", "values": [1600, 1400, 1200], "labels": false, "title": null}},
    "y": {"field": "y", "type": "quantitative", "scale": {"domain": [0, 1], "nice": false, "zero": false}, "axis": {"orient": "right", "values": [0.2, 0.4, 0.6, 0.8], "labels": false, "title": null}},
    "text": {"field": "t"}
   }}
 ],
 "resolve": {"axis": {"x": "independent", "y": "independent"}}
}
]
}
